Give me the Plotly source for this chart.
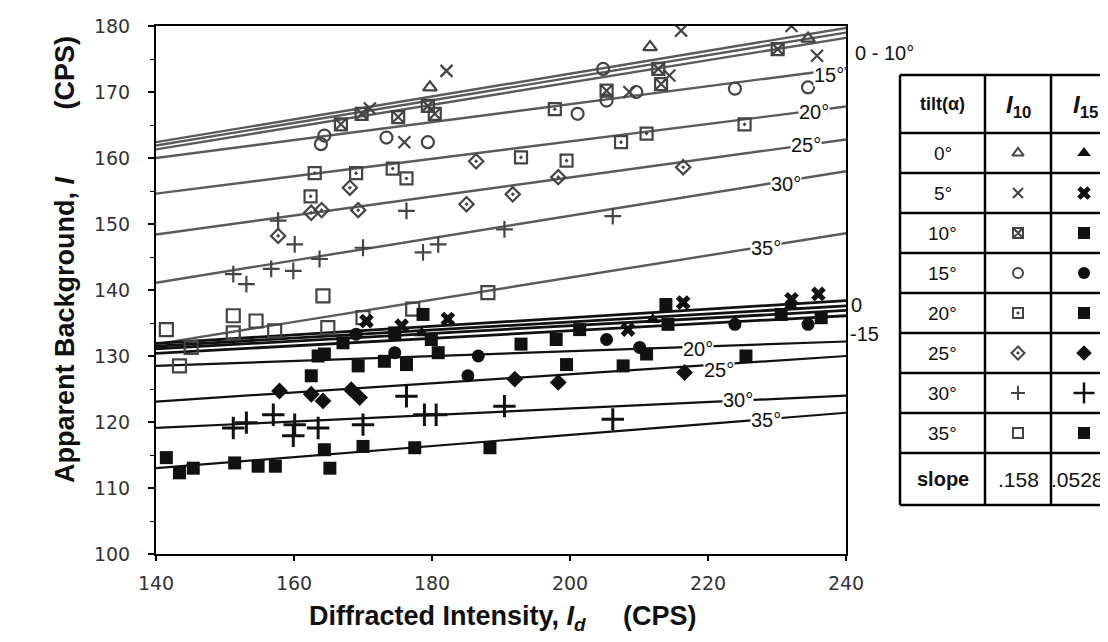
import plotly.graph_objects as go

# ---------------- data ----------------
tilts = ["0°", "5°", "10°", "15°", "20°", "25°", "30°", "35°"]

# I10 measurements (open symbols)
i10_x = [
    [179.7, 211.6, 234.5],
    [182.1, 216.1, 232.1, 235.8, 214.4, 176.0, 171.0, 208.6],
    [166.8, 169.8, 175.1, 179.4, 180.4, 212.8, 213.2, 230.1, 205.3],
    [163.9, 164.4, 173.4, 179.4, 204.8, 205.3, 201.1, 223.9, 234.5, 209.6],
    [163.0, 169.0, 174.3, 176.3, 162.4, 197.8, 225.3, 207.4, 211.1, 192.9, 199.5],
    [168.1, 162.5, 164.0, 169.3, 185.0, 157.7, 186.4, 198.3, 191.7, 216.4],
    [157.7, 160.1, 176.3, 170.0, 163.7, 156.7, 159.9, 151.2, 153.1, 178.7, 180.9, 190.5, 206.2],
    [164.2, 188.1, 141.5, 151.2, 151.2, 154.5, 157.2, 164.9, 170.0, 177.2, 145.1, 143.4],
]
i10_y = [
    [170.7, 176.8, 178.1],
    [173.2, 179.3, 180.0, 175.5, 172.5, 162.4, 167.5, 170.0],
    [165.1, 166.7, 166.2, 167.9, 166.7, 173.5, 171.2, 176.5, 170.2],
    [162.1, 163.4, 163.1, 162.4, 173.5, 168.7, 166.7, 170.5, 170.7, 170.0],
    [157.7, 157.7, 158.4, 156.9, 154.2, 167.4, 165.1, 162.4, 163.7, 160.1, 159.6],
    [155.5, 151.7, 152.1, 152.1, 153.0, 148.2, 159.5, 157.1, 154.5, 158.6],
    [150.5, 146.9, 152.0, 146.4, 144.7, 143.2, 142.9, 142.4, 140.9, 145.7, 146.9, 149.2, 151.2],
    [139.1, 139.6, 134.0, 136.1, 133.5, 135.3, 133.8, 134.3, 135.8, 137.1, 131.3, 128.5],
]

# I15 measurements (filled symbols)
i15_x = [
    [232.0, 212.0, 178.5],
    [170.5, 175.6, 182.3, 216.4, 232.1, 236.0, 208.4],
    [178.7, 167.1, 174.6, 179.9, 180.9, 213.9, 214.2, 230.6, 236.4, 201.4],
    [169.0, 174.6, 186.7, 185.2, 205.3, 223.9, 234.5, 210.1],
    [163.5, 164.4, 169.3, 173.1, 176.3, 162.5, 192.9, 198.0, 199.5, 207.7, 225.5, 211.1],
    [157.9, 162.5, 164.2, 168.3, 169.5, 192.0, 198.3, 216.6],
    [157.0, 151.2, 153.1, 160.1, 159.9, 163.5, 170.0, 176.3, 178.9, 180.6, 190.5, 206.2],
    [141.5, 143.4, 145.4, 151.4, 154.8, 157.3, 164.4, 165.2, 170.0, 177.5, 188.4],
]
i15_y = [
    [137.6, 135.5, 133.5],
    [135.3, 134.6, 135.6, 138.1, 138.6, 139.4, 134.0],
    [136.3, 132.0, 133.5, 132.5, 130.5, 137.8, 134.8, 136.3, 135.8, 134.0],
    [133.3, 130.5, 130.0, 127.0, 132.5, 134.8, 134.8, 131.3],
    [130.0, 130.3, 128.5, 129.2, 128.7, 127.0, 131.8, 132.5, 128.7, 128.5, 130.0, 130.3],
    [124.7, 124.2, 123.2, 124.9, 123.7, 126.5, 126.0, 127.5],
    [121.1, 119.1, 119.9, 119.6, 117.9, 119.1, 119.6, 123.9, 121.1, 121.1, 122.4, 120.4],
    [114.6, 112.3, 113.0, 113.8, 113.3, 113.3, 115.8, 113.0, 116.3, 116.1, 116.1],
]

# fitted lines: value at Id = 140 and at Id = 240
fit_x = [140, 240]
i10_fit_start = [162.4, 161.9, 161.3, 160.0, 154.6, 148.4, 141.1, 131.8]
i10_fit_end = [179.7, 179.0, 178.2, 173.6, 167.8, 162.8, 158.0, 148.6]
i15_fit_start = [131.9, 131.5, 131.1, 130.4, 128.5, 123.1, 119.1, 113.0]
i15_fit_end = [138.4, 137.6, 136.9, 136.1, 132.2, 130.0, 124.0, 121.4]

slope_i10 = ".158"
slope_i15 = ".0528"

x_ticks = [140, 160, 180, 200, 220, 240]
y_ticks = [100, 110, 120, 130, 140, 150, 160, 170, 180]

# ---------------- styling ----------------
W, H = 1108, 642
i10_symbols = ["triangle-up-open", "x-thin-open", "square-x-open", "circle-open",
               "square-open-dot", "diamond-open-dot", "cross-thin-open", "square-open"]
i15_symbols = ["triangle-up", "x", "square", "circle",
               "square", "diamond", "cross-thin-open", "square"]
i10_sizes = [12, 12, 12, 12, 12, 11, 12, 13]
i15_sizes = [13, 13, 13, 13, 13, 13, 16, 13]
C10 = "#444444"
C15 = "#111111"

fig = go.Figure()

# fitted lines
for k in range(len(tilts)):
    fig.add_trace(go.Scatter(
        x=fit_x, y=[i10_fit_start[k], i10_fit_end[k]], mode="lines",
        line=dict(color="#5a5a5a", width=2.4), showlegend=False, hoverinfo="skip"))
for k in range(len(tilts)):
    fig.add_trace(go.Scatter(
        x=fit_x, y=[i15_fit_start[k], i15_fit_end[k]], mode="lines",
        line=dict(color="#111111", width=2.8 if k < 4 else 2.2), showlegend=False,
        hoverinfo="skip"))

# points
for k in range(len(tilts)):
    sym = i10_symbols[k]
    fig.add_trace(go.Scatter(
        x=i10_x[k], y=i10_y[k], mode="markers", name="I10 " + tilts[k],
        marker=dict(symbol=sym, size=i10_sizes[k], color=C10,
                    line=dict(color=C10, width=2.2)),
        showlegend=False))
for k in range(len(tilts)):
    sym = i15_symbols[k]
    fig.add_trace(go.Scatter(
        x=i15_x[k], y=i15_y[k], mode="markers", name="I15 " + tilts[k],
        marker=dict(symbol=sym, size=i15_sizes[k], color=C15,
                    line=dict(color=C15, width=3 if "open" in sym else 0)),
        showlegend=False))

# ---------------- table (right side) ----------------
col_edges = [892, 977, 1043, 1112]
row_edges = [67, 125] + [125 + 40 * (i + 1) for i in range(8)] + [497]
col_mid = [(col_edges[i] + col_edges[i + 1]) / 2 for i in range(3)]
row_mid = [(row_edges[i] + row_edges[i + 1]) / 2 for i in range(len(row_edges) - 1)]

for yy in row_edges:
    fig.add_shape(type="line", xref="x2", yref="y2", x0=col_edges[0], x1=col_edges[-1],
                  y0=yy, y1=yy, line=dict(color="black", width=2.5))
for xx in col_edges:
    fig.add_shape(type="line", xref="x2", yref="y2", x0=xx, x1=xx,
                  y0=row_edges[0], y1=row_edges[-1], line=dict(color="black", width=2.5))

tfont = dict(family="Liberation Sans, Arial, sans-serif", size=19, color="#111")
fig.add_annotation(x=col_mid[0], y=row_mid[0], xref="x2", yref="y2", showarrow=False,
                   text="<b>tilt(α)</b>", font=dict(tfont, size=18))
fig.add_annotation(x=col_mid[1], y=row_mid[0] + 2, xref="x2", yref="y2", showarrow=False,
                   text="<b><i>I</i><sub>10</sub></b>", font=dict(tfont, size=24))
fig.add_annotation(x=col_mid[2], y=row_mid[0] + 2, xref="x2", yref="y2", showarrow=False,
                   text="<b><i>I</i><sub>15</sub></b>", font=dict(tfont, size=24))
for k, t in enumerate(tilts):
    fig.add_annotation(x=col_mid[0], y=row_mid[k + 1], xref="x2", yref="y2",
                       showarrow=False, text=t, font=tfont)
fig.add_annotation(x=col_mid[0], y=row_mid[-1], xref="x2", yref="y2", showarrow=False,
                   text="<b>slope</b>", font=dict(tfont, size=20))
fig.add_annotation(x=col_mid[1], y=row_mid[-1], xref="x2", yref="y2", showarrow=False,
                   text=slope_i10, font=dict(tfont, size=21))
fig.add_annotation(x=col_edges[2] - 2, y=row_mid[-1], xref="x2", yref="y2", showarrow=False,
                   xanchor="left", text=slope_i15, font=dict(tfont, size=21))

for k in range(len(tilts)):
    fig.add_trace(go.Scatter(
        x=[col_mid[1]], y=[row_mid[k + 1]], xaxis="x2", yaxis="y2", mode="markers",
        marker=dict(symbol=i10_symbols[k], size=10, color=C10,
                    line=dict(color=C10, width=2)), showlegend=False, hoverinfo="skip"))
    fig.add_trace(go.Scatter(
        x=[1076], y=[row_mid[k + 1]], xaxis="x2", yaxis="y2", mode="markers",
        marker=dict(symbol=i15_symbols[k], size=12 if k != 6 else 15, color=C15,
                    line=dict(color=C15, width=2.5 if k == 6 else 0)),
        showlegend=False, hoverinfo="skip"))

# ---------------- line labels ----------------
lab_font = dict(family="Liberation Sans, Arial, sans-serif", size=20, color="#111")
upper_lab = [("15°", 237.6, 172.6), ("20°", 235.4, 166.9), ("25°", 234.2, 161.9),
             ("30°", 231.3, 156.0), ("35°", 228.4, 146.3)]
lower_lab = [("20°", 218.6, 131.0), ("25°", 221.6, 127.9), ("30°", 224.3, 123.4),
             ("35°", 228.4, 120.3)]
for t, xx, yy in upper_lab + lower_lab:
    fig.add_annotation(x=xx, y=yy, xref="x", yref="y", text=t, showarrow=False,
                       font=lab_font, bgcolor="white", borderpad=0)
fig.add_annotation(x=845 / W, y=1 - 32 / H, xref="paper", yref="paper", xanchor="left",
                   text="0 - 10°", showarrow=False, font=lab_font)
fig.add_annotation(x=841 / W, y=1 - 297 / H, xref="paper", yref="paper", xanchor="left",
                   text="0", showarrow=False, font=lab_font)
fig.add_annotation(x=840 / W, y=1 - 326 / H, xref="paper", yref="paper", xanchor="left",
                   text="-15", showarrow=False, font=lab_font)

# axis titles
title_font = dict(family="Liberation Sans, Arial, sans-serif", size=27, color="#111")
fig.add_annotation(x=495 / W, y=1 - 629 / H, xref="paper", yref="paper", showarrow=False,
                   text="<b>Diffracted Intensity, <i>I</i><sub><i>d</i></sub>"
                        "\u00a0\u00a0\u00a0\u00a0 (CPS)</b>",
                   font=title_font)
fig.add_annotation(x=40 / W, y=1 - 252 / H, xref="paper", yref="paper", showarrow=False,
                   textangle=-90,
                   text="<b>Apparent Background, <i>I</i>"
                        "\u00a0\u00a0\u00a0\u00a0\u00a0\u00a0\u00a0\u00a0 (CPS)</b>",
                   font=title_font)

tick_font = dict(family="DejaVu Sans, sans-serif", size=19, color="#333")
fig.update_layout(
    width=W, height=H, margin=dict(l=0, r=0, t=0, b=0),
    paper_bgcolor="white", plot_bgcolor="white", showlegend=False,
    xaxis=dict(domain=[148 / W, 838 / W], range=[140, 240], tickvals=x_ticks,
               automargin=False,
               showgrid=False, zeroline=False, showline=True, linecolor="black",
               linewidth=2, mirror=True, ticks="outside", ticklen=5, tickwidth=1.5,
               tickcolor="black", tickfont=tick_font, ticklabelstandoff=6),
    yaxis=dict(domain=[1 - 546 / H, 1 - 18 / H], range=[100, 180], tickvals=y_ticks,
               automargin=False,
               showgrid=False, zeroline=False, showline=True, linecolor="black",
               linewidth=2, mirror=True, ticks="outside", ticklen=6, tickwidth=1.5,
               tickcolor="black", tickfont=tick_font, ticklabelstandoff=14,
               minor=dict(dtick=5, ticks="outside", ticklen=4, tickwidth=1.2,
                          tickcolor="black", showgrid=False)),
    xaxis2=dict(domain=[880 / W, 1.0], range=[880, W], visible=False, anchor="y2",
                automargin=False),
    yaxis2=dict(domain=[1 - 505 / H, 1 - 60 / H], range=[505, 60], visible=False,
                anchor="x2", automargin=False),
)

fig.write_html("out.html")
